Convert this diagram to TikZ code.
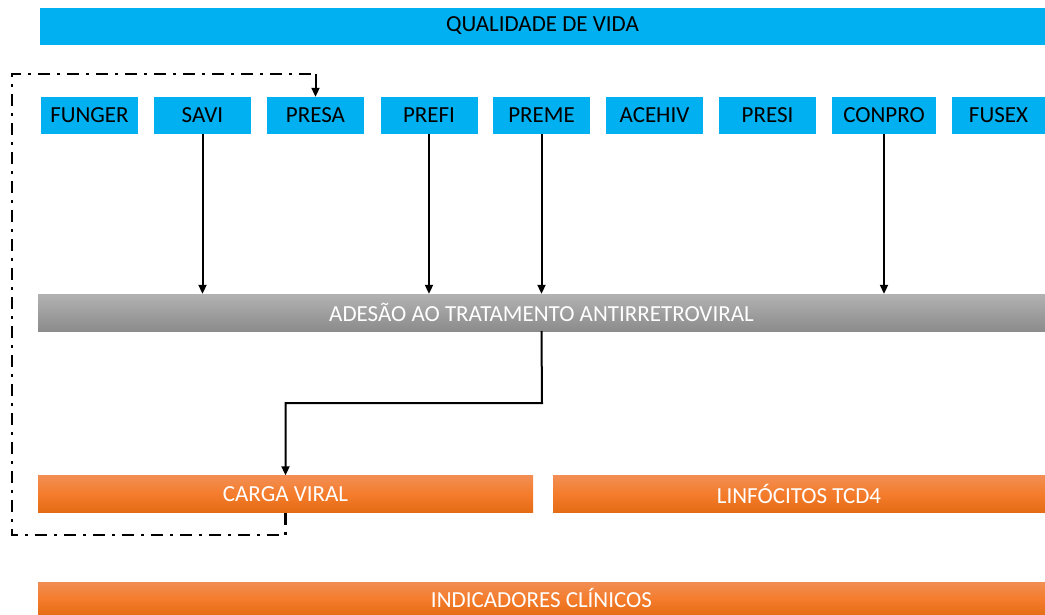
\documentclass[tikz,border=0pt]{standalone}
\usepackage{fontspec}
\setmainfont{Carlito}
\usetikzlibrary{arrows.meta}

\begin{document}
\begin{tikzpicture}[x=1pt, y=-1pt,
  bar/.style={rectangle, inner sep=0pt, minimum height=37pt,
    font=\fontsize{23}{27}\selectfont},
  bluebar/.style={bar, fill=skyblue, text=black},
  factor/.style={bluebar, minimum width=97pt},
  greybar/.style={bar, top color=greytop, bottom color=greybot, text=white},
  orangebar/.style={bar, top color=orangetop, bottom color=orangebot,
    middle color=orangemid, text=white},
  link/.style={line width=2pt, -{Triangle[length=9pt, width=8pt]}},
  loopback/.style={line width=2.4pt, dash pattern=on 12pt off 7pt on 3pt off 7pt}]

%─────────────
% Colours
%─────────────
\definecolor{skyblue}{RGB}{0,176,240}
\definecolor{greytop}{RGB}{178,178,178}
\definecolor{greybot}{RGB}{140,140,140}
\definecolor{orangetop}{RGB}{242,142,84}
\definecolor{orangemid}{RGB}{244,124,44}
\definecolor{orangebot}{RGB}{228,108,20}

\useasboundingbox (0,0) rectangle (1045,614);

%─────────────
% Top bar
%─────────────
\node[bluebar, minimum width=1005pt] (vida) at (542.5,26) {QUALIDADE DE VIDA};

%─────────────────────────────
% Row of factors (name / x / width)
%─────────────────────────────
\foreach \nm/\xc/\bw in {FUNGER/89.5/97, SAVI/202.5/97, PRESA/315.5/97,
    PREFI/429/97, PREME/541.5/97, ACEHIV/654.5/97, PRESI/767.5/97,
    CONPRO/884/104, FUSEX/998.5/93} {
  \node[factor, minimum width=\bw pt] (\nm) at (\xc,115.5) {\nm};
}

%─────────────
% Adherence and outcomes
%─────────────
\node[greybar, minimum width=1007pt] (adesao) at (541.5,312.5)
  {ADESÃO AO TRATAMENTO ANTIRRETROVIRAL};
\node[orangebar, minimum width=495pt] (carga) at (285.5,494) {CARGA VIRAL};
\node[orangebar, minimum width=492pt] (linfo) at (799,494) {LINFÓCITOS TCD4};
\node[orangebar, minimum width=1007pt, minimum height=34pt, text depth=2pt]
  (indic) at (541.5,599) {INDICADORES CLÍNICOS};

%─────────────
% Arrows
%─────────────
\foreach \nm in {SAVI, PREFI, PREME, CONPRO} {
  \draw[link] (\nm.south) -- (\nm.south |- adesao.north);
}
\coordinate (bend) at (542,403);
\draw[link] (adesao.south) -- (bend) -| (carga.north);

% Feedback loop back to PRESA
\coordinate (lowleft) at (12,535);
\coordinate (upleft) at (12,74);
\draw[loopback] (carga.south) -- (carga.south |- lowleft) -- (lowleft)
  -- (upleft) -- (upleft -| PRESA.north);
\draw[link] (upleft -| PRESA.north) -- (PRESA.north);

\end{tikzpicture}
\end{document}
